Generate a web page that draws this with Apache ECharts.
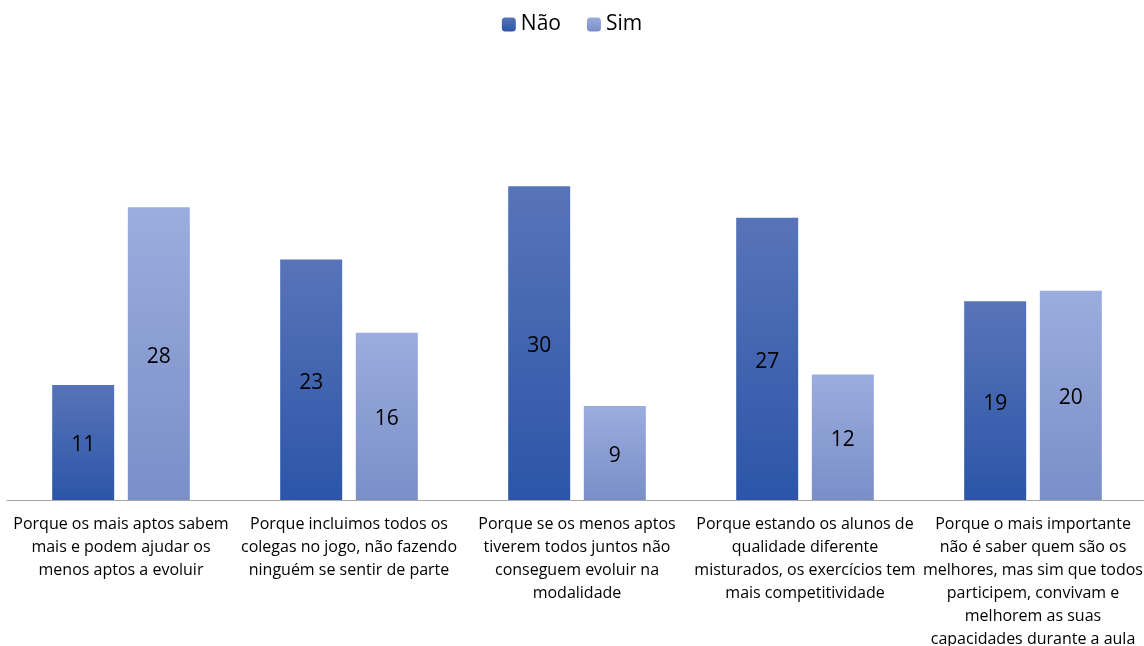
<!DOCTYPE html>
<html>
<head>
<meta charset="utf-8">
<script src="https://cdn.jsdelivr.net/npm/echarts@6/dist/echarts.min.js"></script>
<style>
  html, body { margin: 0; padding: 0; background: #fff; }
  #chart { width: 1144px; height: 646px; }
</style>
</head>
<body>
<div id="chart"></div>
<script>
// categorias (quebras de linha como no original)
const categories = [
  "Porque os mais aptos sabem\nmais e podem ajudar os\nmenos aptos a evoluir",
  "Porque incluimos todos os\ncolegas no jogo, não fazendo\nninguém se sentir de parte",
  "Porque se os menos aptos\ntiverem todos juntos não\nconseguem evoluir na\nmodalidade",
  "Porque estando os alunos de\nqualidade diferente\nmisturados, os exercícios tem\nmais competitividade",
  "Porque o mais importante\nnão é saber quem são os\nmelhores, mas sim que todos\nparticipem, convivam e\nmelhorem as suas\ncapacidades durante a aula"
];
const naoValues = [11, 23, 30, 27, 19];
const simValues = [28, 16, 9, 12, 20];

const fontFamily = "'Open Sans', 'Noto Sans', sans-serif";

function grad(top, bottom) {
  return new echarts.graphic.LinearGradient(0, 0, 0, 1, [
    { offset: 0, color: top },
    { offset: 1, color: bottom }
  ]);
}

const myChart = echarts.init(document.getElementById("chart"));
const option = {
  animation: false,
  textStyle: { fontFamily: fontFamily },
  legend: {
    top: 9,
    left: "center",
    itemWidth: 14,
    itemHeight: 14,
    itemGap: 26,
    textStyle: { fontSize: 21, color: "#000", fontFamily: fontFamily },
    data: ["Não", "Sim"]
  },
  grid: {
    left: 7,
    right: -3,
    top: 134,
    bottom: 146,
    containLabel: false,
    outerBoundsMode: "none"
  },
  xAxis: {
    type: "category",
    data: categories,
    axisLine: { lineStyle: { color: "#a6a6a6", width: 1 } },
    axisTick: { show: false },
    axisLabel: {
      interval: 0,
      color: "#000",
      fontSize: 16,
      lineHeight: 23,
      margin: 13,
      align: "center"
    }
  },
  yAxis: {
    type: "value",
    min: 0,
    max: 35,
    show: false,
    splitLine: { show: false }
  },
  series: [
    {
      name: "Não",
      type: "bar",
      barWidth: 62,
      barGap: "22%",
      itemStyle: { color: grad("#5874b8", "#2c55a8") },
      label: { show: true, position: "inside", offset: [0, 3], fontSize: 21, color: "#000" },
      data: naoValues
    },
    {
      name: "Sim",
      type: "bar",
      barWidth: 62,
      itemStyle: { color: grad("#9badde", "#7a8ec8") },
      label: { show: true, position: "inside", offset: [0, 3], fontSize: 21, color: "#000" },
      data: simValues
    }
  ]
};
myChart.setOption(option);
</script>
</body>
</html>
